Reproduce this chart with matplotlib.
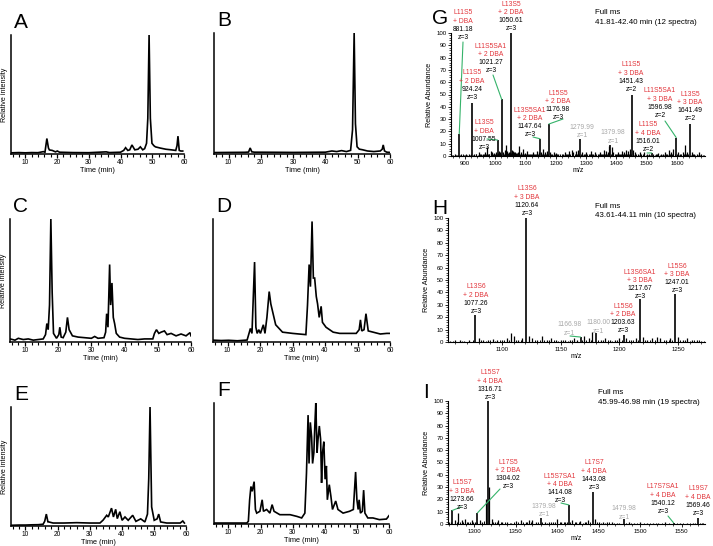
import matplotlib
matplotlib.use('Agg')
import matplotlib.pyplot as plt
from matplotlib.ticker import MultipleLocator, NullLocator

plt.rcParams['font.family'] = ['Liberation Sans', 'DejaVu Sans']

W, H = 713, 546
fig = plt.figure(figsize=(W / 100, H / 100), dpi=100)

RED = '#e2363c'
GREY = '#a9a9a9'
GREEN = '#35b36a'

# ---------------- chromatogram data (time in min, relative intensity) -------------
A_time = [5.6, 8, 10, 12, 14, 15.7, 16.2, 16.8, 17.3, 17.6, 18.5, 19.5, 20.1, 20.8, 25, 30, 35.5, 36.5, 40,
          41.0, 41.6, 42.3, 42.9, 43.6, 44.5, 45.5, 46.25, 47.0, 47.6, 48.2, 48.6, 49.0, 49.4, 49.9, 50.5,
          51.0, 52.5, 54.3, 56, 57.4, 57.8, 58.1, 58.5, 59.0, 59.6]
A_int = [1.0, 1.2, 1.0, 1.2, 1.1, 2.0, 1.5, 13, 5, 3.4, 3, 1.8, 2.5, 1.5, 1.2, 1.1, 1.8, 1.2, 1.5,
         3, 5.3, 3, 3.5, 7.6, 3.5, 4, 6, 3.5, 4.5, 9, 30, 100, 30, 9, 7,
         6, 5, 4, 3.5, 3, 7, 15, 3, 2.5, 2.5]

B_time = [5.6, 10, 15, 16.2, 16.7, 17.2, 18, 25, 30, 35, 40, 42, 43.5, 45, 46.5, 47.8, 48.4, 48.9, 49.3,
          49.8, 50.5, 51.5, 53, 55, 57, 57.6, 57.9, 58.3, 59, 60]
B_int = [1.2, 1.3, 1.4, 1.6, 5, 1.8, 1.5, 1.4, 1.3, 1.4, 1.5, 2.5, 2.0, 2.8, 2.0, 3, 20, 100, 25,
         6, 4, 3.5, 2.5, 2, 2.5, 4, 7.5, 2.5, 1.5, 1.3]

C_time = [5.5, 7, 8, 9.5, 11, 12.5, 14, 15.5, 16.2, 16.6, 17.0, 17.4, 17.8, 18.2, 18.6, 19.5, 20.2, 20.5,
          20.9, 21.5, 22.3, 22.8, 23.3, 24.3, 26, 28, 30, 31, 32, 33.8, 34.3, 34.6, 35.0, 35.5, 35.8,
          36.2, 36.6, 37.0, 37.5, 38.5, 40, 42, 44, 46, 48.5, 49.0, 49.6, 50.3, 51, 52, 52.8, 54, 55.5,
          57, 58.5, 59.7, 60]
C_int = [2.5, 1.5, 3, 2, 2.5, 1.5, 2, 2.5, 6, 15, 10, 30, 100, 40, 7, 3, 6, 12,
         4, 3.5, 8, 20, 10, 5, 4, 3.5, 3.0, 4.5, 3, 3.5, 8, 23, 12, 63, 30,
         48, 20, 15, 7, 4, 3, 2.5, 2, 2.5, 2.5, 7, 10, 7, 8, 9, 6, 7, 5,
         6.5, 5, 7.6, 5]

D_time = [5.5, 8, 10.3, 13, 16.0, 16.7, 17.0, 17.5, 18.3, 18.7, 19.1, 19.6, 20.1, 21.0, 21.5, 22.1, 22.8,
          23.3, 24.8, 26.9, 30, 32, 34.1, 34.6, 35.1, 35.5, 36.0, 36.4, 36.8, 37.3, 37.7, 38.2, 38.8,
          39.2, 40.3, 42.5, 44.5, 47, 49.6, 50.5, 50.9, 51.3, 52.0, 52.6, 53.3, 54.8, 57, 59, 60]
D_int = [1.5, 1.2, 1.4, 1.0, 1.6, 8, 11, 7, 65, 12, 7, 10, 7, 14, 7, 20, 41,
         31, 14, 8, 7, 6.5, 6, 30, 63, 45, 98, 52, 52, 37, 31, 20, 29,
         16, 12, 8, 7, 7, 7, 10, 18, 9, 10, 23, 9, 8, 6.5, 7, 7]

E_time = [5.6, 8, 10, 12, 14, 15.5, 16.0, 16.5, 17.0, 17.3, 18.6, 22, 26, 30, 33.2, 34.2, 35.3, 35.8,
          36.8, 37.4, 38.1, 38.6, 39.4, 40.1, 41.0, 42.0, 43.4, 44.4, 45.9, 47.2, 48.0, 48.4, 48.8,
          49.3, 50.1, 51.0, 51.5, 52.1, 54, 56, 58.2, 59.0, 59.5]
E_int = [0.6, 0.8, 0.8, 1.0, 1.1, 1.5, 4, 10, 3.5, 3.4, 2.5, 2.5, 2.8, 2.5, 2.5, 5, 9, 7.6,
         15, 7.6, 14, 6.2, 12, 4.8, 7.6, 4.8, 9, 3.9, 6, 3.4, 10, 40, 100,
         16, 4.8, 6, 10, 3.4, 2.5, 2.5, 2.5, 4.2, 2.5]

F_time = [5.5, 8, 10.5, 13, 15.7, 16.2, 16.6, 17.0, 17.4, 18.0, 18.4, 18.8, 19.8, 20.5, 20.9, 21.9, 22.9,
          23.6, 24.2, 26, 29.2, 31.3, 32.8, 33.8, 34.3, 34.8, 35.1, 35.5, 35.9, 36.2, 36.6, 36.9, 37.2,
          37.6, 37.9, 38.3, 38.7, 39.0, 39.3, 39.7, 40.1, 40.5, 40.8, 41.4, 41.9, 42.4, 43.4, 44.1,
          45.7, 47.7, 48.9, 49.6, 50.0, 50.4, 50.7, 51.1, 51.7, 52.1, 52.5, 53.4, 55, 57, 59.2, 60]
F_int = [0.8, 0.8, 0.8, 0.8, 0.8, 2.2, 20, 31, 27, 35, 12, 9, 10.5, 20, 10.5, 12, 9,
         16, 10.5, 7.7, 7.7, 6.3, 5, 9, 42, 90, 50, 84, 72, 50, 59, 81, 100,
         59, 70, 81, 70, 34, 59, 68, 37, 48, 20, 32.5, 23, 12, 19, 12,
         9, 10.5, 12, 43, 20, 12, 20, 9, 10.5, 28, 9, 5, 5, 3.6, 4.1, 6.9]

# ---------------- mass spectra data (m/z, relative abundance) -------------------
G_mz = [881.18, 924.24, 1007.55, 1021.27, 1050.61, 1147.64, 1176.98, 1279.99, 1379.98, 1451.43,
        1516.01, 1596.98, 1641.49]
G_ab = [18, 43, 13, 46, 100, 14, 26, 14, 9, 50, 2.5, 15, 26]
G_mz_minor = [858, 866, 873, 888, 896, 905, 912, 918, 931, 938, 946, 952, 960, 966, 972, 978, 985, 990,
              996, 1002, 1012, 1016, 1026, 1031, 1036, 1040, 1045, 1055, 1058, 1062, 1066, 1070, 1074,
              1079, 1085, 1092, 1098, 1104, 1110, 1118, 1125, 1131, 1138, 1143, 1152, 1158, 1164, 1170,
              1182, 1188, 1195, 1201, 1208, 1215, 1222, 1229, 1236, 1244, 1252, 1258, 1266, 1272, 1286,
              1292, 1300, 1308, 1316, 1323, 1330, 1338, 1345, 1352, 1360, 1366, 1372, 1376, 1384, 1390,
              1398, 1405, 1412, 1418, 1425, 1432, 1438, 1444, 1456, 1462, 1470, 1478, 1486, 1492, 1500,
              1508, 1522, 1530, 1538, 1546, 1553, 1560, 1567, 1574, 1580, 1588, 1603, 1610, 1618, 1626,
              1632, 1648, 1656, 1664, 1672, 1680, 1688]
G_ab_minor = [1, 1.5, 1, 1.5, 1, 2, 1.5, 1, 2, 1.5, 3, 1.5, 2, 3, 7, 2, 4, 3,
              2.5, 3, 4, 3, 3, 5, 9, 4, 3, 5, 4, 3, 3.5, 2.5, 3,
              8, 3, 6, 2.5, 4, 2, 2, 3, 2, 4, 3, 3, 6, 3, 4,
              3, 2, 3, 2.5, 2, 1.5, 2, 3, 2, 4, 5, 3, 4, 5, 3,
              2, 3, 2, 4, 2, 3, 2, 3, 2, 5, 4, 3, 8, 7, 3,
              2, 3, 2, 4, 3, 5, 4, 6, 5, 3, 2, 3, 2, 3, 2,
              2, 1.5, 2, 2.5, 1.5, 2, 3, 2, 5, 3, 6, 3, 2, 3, 9,
              3, 3, 2, 2, 3, 1.5, 1]
G_mz_grass = [862, 870, 877, 884, 892, 900, 908, 915, 921, 928, 935, 942, 949, 956, 963, 969, 975, 981,
              988, 993, 999, 1005, 1010, 1018, 1024, 1029, 1033, 1038, 1043, 1048, 1053, 1060, 1064, 1068,
              1072, 1077, 1082, 1088, 1095, 1101, 1107, 1114, 1121, 1128, 1135, 1141, 1150, 1155, 1161,
              1167, 1173, 1179, 1185, 1192, 1198, 1205, 1212, 1219, 1226, 1233, 1240, 1248, 1255, 1262,
              1269, 1276, 1283, 1289, 1296, 1304, 1312, 1320, 1327, 1334, 1341, 1349, 1356, 1363, 1369,
              1382, 1387, 1394, 1402, 1409, 1415, 1422, 1429, 1435, 1441, 1448, 1454, 1459, 1466, 1474,
              1482, 1489, 1496, 1504, 1512, 1519, 1526, 1534, 1542, 1550, 1557, 1564, 1571, 1577, 1584,
              1592, 1600, 1607, 1614, 1622, 1629, 1636, 1645, 1652, 1660, 1668, 1676, 1684]
G_ab_grass = [0.8, 1.2, 0.8, 1.0, 1.3, 0.9, 1.2, 1.0, 1.4, 1.1, 1.6, 1.0, 1.5, 1.2, 1.8, 1.3, 2.0, 1.5,
              2.2, 1.6, 1.8, 2.0, 2.4, 1.8, 2.5, 2.0, 2.6, 2.2, 2.4, 3.0, 2.8, 2.5, 2.2, 2.0,
              2.4, 1.8, 2.0, 1.6, 1.8, 1.5, 1.7, 1.4, 1.6, 1.3, 1.5, 1.8, 1.6, 1.4, 1.8,
              1.5, 1.3, 1.7, 1.4, 1.2, 1.5, 1.3, 1.1, 1.4, 1.2, 1.6, 1.3, 1.5, 1.8, 1.4,
              1.6, 1.3, 1.5, 1.2, 1.4, 1.6, 1.3, 1.5, 1.2, 1.4, 1.6, 1.3, 1.5, 1.8, 1.4,
              1.6, 1.4, 1.3, 1.5, 1.6, 1.4, 1.7, 1.5, 1.8, 1.6, 1.5, 1.3, 1.2, 1.4, 1.1,
              1.3, 1.0, 1.2, 1.1, 1.0, 1.2, 1.0, 1.3, 1.1, 1.0, 1.2, 1.4, 1.2, 1.5, 1.3,
              1.6, 1.4, 1.2, 1.5, 1.3, 1.6, 1.4, 1.2, 1.3, 1.1, 1.0, 0.9, 1.0]

H_mz = [1077.26, 1120.64, 1166.98, 1180.00, 1203.63, 1217.67, 1247.01]
H_ab = [22, 100, 4, 7, 6, 35, 39]
H_mz_minor = [1056, 1060, 1064, 1068, 1072, 1080, 1084, 1088, 1092, 1096, 1100, 1104, 1108, 1110, 1114,
              1117, 1123, 1126, 1130, 1134, 1138, 1142, 1146, 1150, 1154, 1158, 1161, 1164, 1170, 1174,
              1177, 1184, 1188, 1192, 1196, 1200, 1206, 1210, 1214, 1220, 1224, 1228, 1232, 1235, 1240,
              1243, 1250, 1254, 1258, 1262, 1266, 1270]
H_ab_minor = [1, 1.5, 2, 1, 1.5, 3, 1.5, 2, 2.5, 1.5, 2, 3, 7, 5, 2,
              3, 5, 3, 2, 5, 2, 3, 1.5, 2, 1.5, 2, 3, 2, 5, 3,
              8, 2, 3, 1.5, 2, 3, 3, 2, 3, 4, 2, 3, 4, 3, 2,
              3, 4, 2, 3, 1.5, 2, 1]
H_mz_grass = [1058, 1066, 1075, 1082, 1086, 1090, 1094, 1098, 1102, 1106, 1112, 1116, 1128, 1132, 1136,
              1140, 1144, 1148, 1152, 1156, 1160, 1168, 1172, 1176, 1182, 1186, 1190, 1194, 1198, 1202,
              1208, 1212, 1216, 1222, 1226, 1230, 1238, 1242, 1245, 1252, 1256, 1260, 1264, 1268, 1272]
H_ab_grass = [1.0, 1.2, 1.5, 1.3, 1.1, 1.6, 1.2, 1.4, 1.8, 1.5, 2.0, 1.6, 1.8, 1.4, 1.6,
              1.3, 1.5, 1.2, 1.4, 1.1, 1.3, 1.6, 1.4, 2.0, 1.5, 1.3, 1.6, 1.2, 1.4, 1.8,
              1.5, 1.3, 2.0, 1.6, 1.4, 1.8, 1.5, 1.3, 1.6, 1.8, 1.4, 1.2, 1.5, 1.3, 1.1]

I_mz = [1273.66, 1304.02, 1316.71, 1379.98, 1414.08, 1443.08, 1479.98, 1540.12, 1569.46]
I_ab = [11, 9, 100, 5, 15.5, 26, 4, 1, 5]
I_mz_minor = [1270, 1277, 1281, 1285, 1289, 1293, 1297, 1301, 1307, 1310, 1314, 1318, 1321, 1325, 1329,
              1334, 1340, 1345, 1350, 1356, 1362, 1366, 1370, 1374, 1385, 1390, 1395, 1400, 1405, 1410,
              1418, 1423, 1428, 1433, 1437, 1446, 1450, 1455, 1460, 1466, 1472, 1486, 1492, 1500, 1508,
              1515, 1522, 1530, 1548, 1556, 1563, 1574]
I_ab_minor = [2, 3, 9, 3, 4, 2, 3, 2, 3, 2, 20, 30, 4, 2, 3,
              2, 1.5, 1, 2.5, 3, 2, 3.5, 3, 2, 1.5, 2, 1.5, 4, 2, 2,
              3, 2, 2.5, 1.5, 3, 4, 2, 2, 1.5, 2, 1, 1.5, 1, 1.5, 1,
              1, 1, 1.5, 1, 1, 1, 1]
I_mz_grass = [1272, 1279, 1283, 1287, 1291, 1295, 1299, 1303, 1312, 1323, 1327, 1332, 1337, 1343, 1348,
              1353, 1359, 1364, 1368, 1377, 1382, 1388, 1393, 1398, 1403, 1408, 1412, 1416, 1421, 1426,
              1431, 1435, 1440, 1448, 1453, 1458, 1463, 1469, 1475, 1483, 1489, 1496, 1504, 1512, 1519,
              1526, 1535, 1544, 1552, 1560, 1566, 1572, 1576]
I_ab_grass = [1.5, 1.8, 1.4, 2.0, 1.6, 1.8, 1.5, 1.7, 2.2, 1.8, 1.5, 1.6, 1.3, 1.2, 1.4,
              1.5, 1.3, 1.6, 1.4, 1.3, 1.5, 1.2, 1.4, 1.3, 1.5, 1.6, 1.4, 1.5, 1.3, 1.6,
              1.2, 1.4, 1.5, 1.3, 1.2, 1.1, 1.3, 1.0, 1.2, 1.1, 1.0, 0.9, 1.1, 0.9, 1.0,
              0.8, 0.9, 1.0, 0.8, 0.9, 1.0, 0.8, 0.9]

# annotation texts
G_names = ['L11S5', 'L11S5', 'L13S5', 'L11S5SA1', 'L13S5', 'L13S5SA1', 'L15S5', '', '', 'L11S5',
           'L11S5', 'L11S5SA1', 'L13S5']
G_dba = ['+ DBA', '+ 2 DBA', '+ DBA', '+ 2 DBA', '+ 2 DBA', '+ 2 DBA', '+ 2 DBA', '', '', '+ 3 DBA',
         '+ 4 DBA', '+ 3 DBA', '+ 3 DBA']
G_z = ['z=3', 'z=3', 'z=3', 'z=3', 'z=3', 'z=3', 'z=3', 'z=1', 'z=1', 'z=2', 'z=2', 'z=2', 'z=2']
G_lab = ['881.18', '924.24', '1007.55', '1021.27', '1050.61', '1147.64', '1176.98', '1279.99', '1379.98',
         '1451.43', '1516.01', '1596.98', '1641.49']

H_names = ['L13S6', 'L13S6', '', '', 'L15S6', 'L13S6SA1', 'L15S6']
H_dba = ['+ 2 DBA', '+ 3 DBA', '', '', '+ 2 DBA', '+ 3 DBA', '+ 3 DBA']
H_z = ['z=3', 'z=3', 'z=1', 'z=1', 'z=3', 'z=3', 'z=3']
H_lab = ['1077.26', '1120.64', '1166.98', '1180.00', '1203.63', '1217.67', '1247.01']

I_names = ['L15S7', 'L17S5', 'L15S7', '', 'L15S7SA1', 'L17S7', '', 'L17S7SA1', 'L19S7']
I_dba = ['+ 3 DBA', '+ 2 DBA', '+ 4 DBA', '', '+ 4 DBA', '+ 4 DBA', '', '+ 4 DBA', '+ 4 DBA']
I_z = ['z=3', 'z=3', 'z=3', 'z=1', 'z=3', 'z=3', 'z=1', 'z=3', 'z=3']
I_lab = ['1273.66', '1304.02', '1316.71', '1379.98', '1414.08', '1443.08', '1479.98', '1540.12', '1569.46']

G_info = ['Full ms', '41.81-42.40 min (12 spectra)']
H_info = ['Full ms', '43.61-44.11 min (10 spectra)']
I_info = ['Full ms', '45.99-46.98 min (19 spectra)']

# ---------------- layout (pixels) ----------------
def add_ax(l, t, r, b):
    return fig.add_axes([l / W, 1 - b / H, (r - l) / W, (b - t) / H])


def fpx(px, py):
    return px / W, 1 - py / H


def chrom(box, t, y, letter, ylabel):
    ax = add_ax(*box)
    ax.plot(t, y, color='black', lw=1.2, solid_joinstyle='miter')
    ax.set_xlim(5.5, 60)
    ax.set_ylim(0, 100)
    for s in ['top', 'right']:
        ax.spines[s].set_visible(False)
    for s in ['left', 'bottom']:
        ax.spines[s].set_linewidth(1.1)
    ax.yaxis.set_major_locator(NullLocator())
    ax.xaxis.set_major_locator(MultipleLocator(10))
    ax.xaxis.set_minor_locator(MultipleLocator(2))
    ax.tick_params(axis='x', which='major', length=2.8, width=0.9, labelsize=4.8, pad=1)
    ax.tick_params(axis='x', which='minor', length=2.2, width=0.8)
    ax.set_xticks([10, 20, 30, 40, 50, 60])
    ax.set_xlabel('Time (min)', fontsize=5.3, labelpad=0.5)
    if ylabel:
        ax.set_ylabel('Relative intensity', fontsize=5.1, labelpad=2)
    fig.text(*fpx(box[0] + 3, box[1] - 13), letter, fontsize=15, ha='left', va='center')
    return ax


chrom((11, 35, 184, 154), A_time, A_int, 'A', True)
chrom((214, 33, 390, 154), B_time, B_int, 'B', False)
chrom((10, 219, 191, 342), C_time, C_int, 'C', True)
chrom((213, 219, 390, 342), D_time, D_int, 'D', False)
chrom((11, 407, 186, 526), E_time, E_int, 'E', True)
chrom((214, 403, 389, 524), F_time, F_int, 'F', False)


def spectrum(box, xlim, major, minor, mz, ab, mz_m, ab_m, mz_g, ab_g, letter, letter_pos):
    ax = add_ax(*box)
    ax.vlines(mz_g, 0, ab_g, color='black', lw=0.7)
    ax.vlines(mz_m, 0, ab_m, color='black', lw=0.9)
    ax.vlines(mz, 0, ab, color='black', lw=1.2)
    ax.set_xlim(*xlim)
    ax.set_ylim(0, 100)
    for s in ['top', 'right']:
        ax.spines[s].set_visible(False)
    for s in ['left', 'bottom']:
        ax.spines[s].set_linewidth(0.8)
    ax.xaxis.set_major_locator(MultipleLocator(major))
    ax.xaxis.set_minor_locator(MultipleLocator(minor))
    ax.yaxis.set_major_locator(MultipleLocator(10))
    ax.yaxis.set_minor_locator(MultipleLocator(2))
    ax.tick_params(which='major', length=2.4, width=0.6, labelsize=4.4, pad=1)
    ax.tick_params(which='minor', length=1.3, width=0.5)
    ax.set_xlabel('m/z', fontsize=5.0, labelpad=1)
    ax.set_ylabel('Relative Abundance', fontsize=5.2, labelpad=2)
    fig.text(*fpx(*letter_pos), letter, fontsize=15, ha='left', va='center')
    return ax


def annotate(ax, names, dbas, labs, zs, mzs, abs_, pos, leaders):
    for i, (nm, db, lb, z) in enumerate(zip(names, dbas, labs, zs)):
        px, py = pos[i]
        sp = 8.2
        if nm:
            lines = [(nm, RED), (db, RED), (lb, 'black'), (z, 'black')]
        else:
            lines = [(lb, GREY), (z, GREY)]
        for k, (s, c) in enumerate(lines):
            fig.text(*fpx(px, py + k * sp), s, fontsize=4.9, color=c, ha='center', va='center')
        if i in leaders:
            sx, sy = leaders[i]
            j = mzs.index(float(lb))
            ax.annotate('', xy=(mzs[j], abs_[j]), xycoords='data',
                        xytext=(sx, H - sy), textcoords='figure pixels',
                        arrowprops=dict(arrowstyle='-', color=GREEN, lw=0.8,
                                        shrinkA=0, shrinkB=0))


def info(lines, px, py):
    fig.text(*fpx(px, py), lines[0], fontsize=5.7, ha='left', va='center')
    fig.text(*fpx(px, py + 10), lines[1], fontsize=5.7, ha='left', va='center')


axG = spectrum((451, 33, 705, 156), (854, 1692), 100, 20, G_mz, G_ab, G_mz_minor, G_ab_minor,
               G_mz_grass, G_ab_grass, 'G', (432, 18))
G_pos = [(463, 13), (472, 73), (484, 123), (491, 46), (511, 4), (530, 110), (558, 93), (582, 127),
         (613, 133), (631, 65), (648, 125), (660, 91), (690, 94)]
G_lead = {0: (463, 42), 2: (487, 139), 3: (493, 75), 5: (533, 137), 6: (563, 119),
          10: (647, 153), 11: (665, 121)}
annotate(axG, G_names, G_dba, G_lab, G_z, G_mz, G_ab, G_pos, G_lead)
info(G_info, 595, 13)

axH = spectrum((448, 218, 705, 342), (1054, 1273), 50, 10, H_mz, H_ab, H_mz_minor, H_ab_minor,
               H_mz_grass, H_ab_grass, 'H', (432, 208))
H_pos = [(476, 287), (527, 189), (569, 325), (598, 323), (623, 306), (640, 272), (677, 266)]
H_lead = {2: (570, 336)}
annotate(axH, H_names, H_dba, H_lab, H_z, H_mz, H_ab, H_pos, H_lead)
info(H_info, 595, 206)

axI = spectrum((448, 401, 705, 524), (1268.6, 1578), 50, 10, I_mz, I_ab, I_mz_minor, I_ab_minor,
               I_mz_grass, I_ab_grass, 'I', (423, 392))
I_pos = [(462, 483), (508, 462), (490, 373), (544, 506), (560, 476), (594, 463), (624, 509),
         (663, 487), (698, 489)]
I_lead = {0: (461, 507), 1: (500, 489), 4: (561, 503), 7: (668, 516)}
annotate(axI, I_names, I_dba, I_lab, I_z, I_mz, I_ab, I_pos, I_lead)
info(I_info, 598, 392)

fig.savefig('out.png', dpi=100)
